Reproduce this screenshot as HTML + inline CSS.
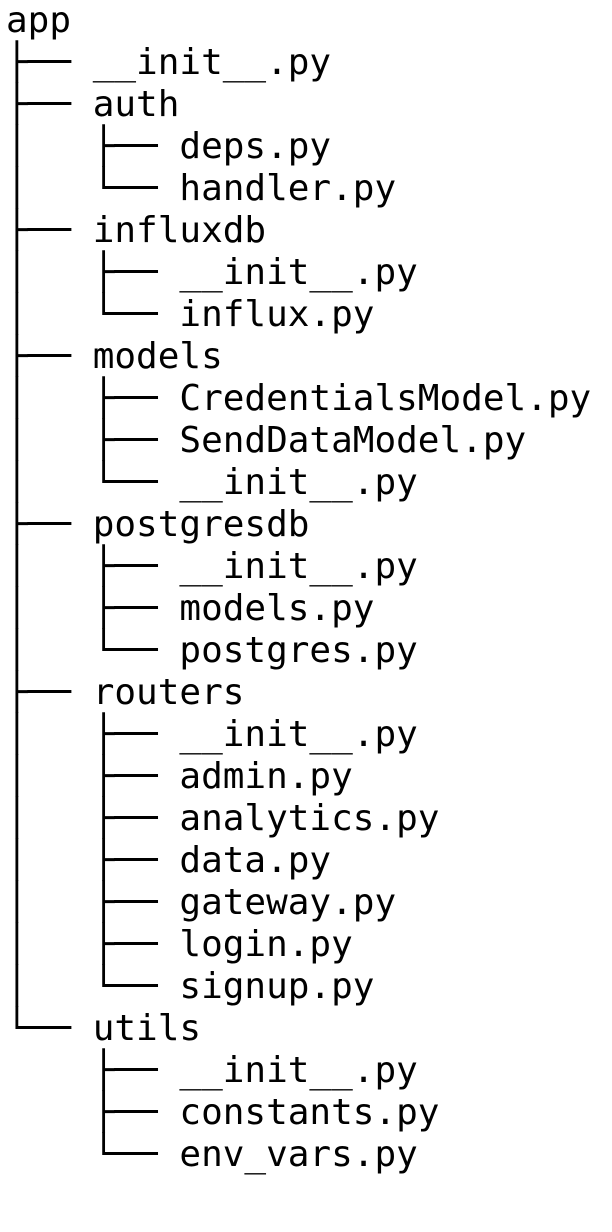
<!DOCTYPE html>
<html><head><meta charset="utf-8"><style>
html,body{margin:0;padding:0;background:#fff;width:612px;height:1232px;overflow:hidden}
pre{margin:0;padding:0 0 0 6px;font-family:"DejaVu Sans Mono","Liberation Mono",monospace;font-size:36px;line-height:42px;color:#000}
</style></head><body><pre>app
├── __init__.py
├── auth
│   ├── deps.py
│   └── handler.py
├── influxdb
│   ├── __init__.py
│   └── influx.py
├── models
│   ├── CredentialsModel.py
│   ├── SendDataModel.py
│   └── __init__.py
├── postgresdb
│   ├── __init__.py
│   ├── models.py
│   └── postgres.py
├── routers
│   ├── __init__.py
│   ├── admin.py
│   ├── analytics.py
│   ├── data.py
│   ├── gateway.py
│   ├── login.py
│   └── signup.py
└── utils
    ├── __init__.py
    ├── constants.py
    └── env_vars.py</pre></body></html>
